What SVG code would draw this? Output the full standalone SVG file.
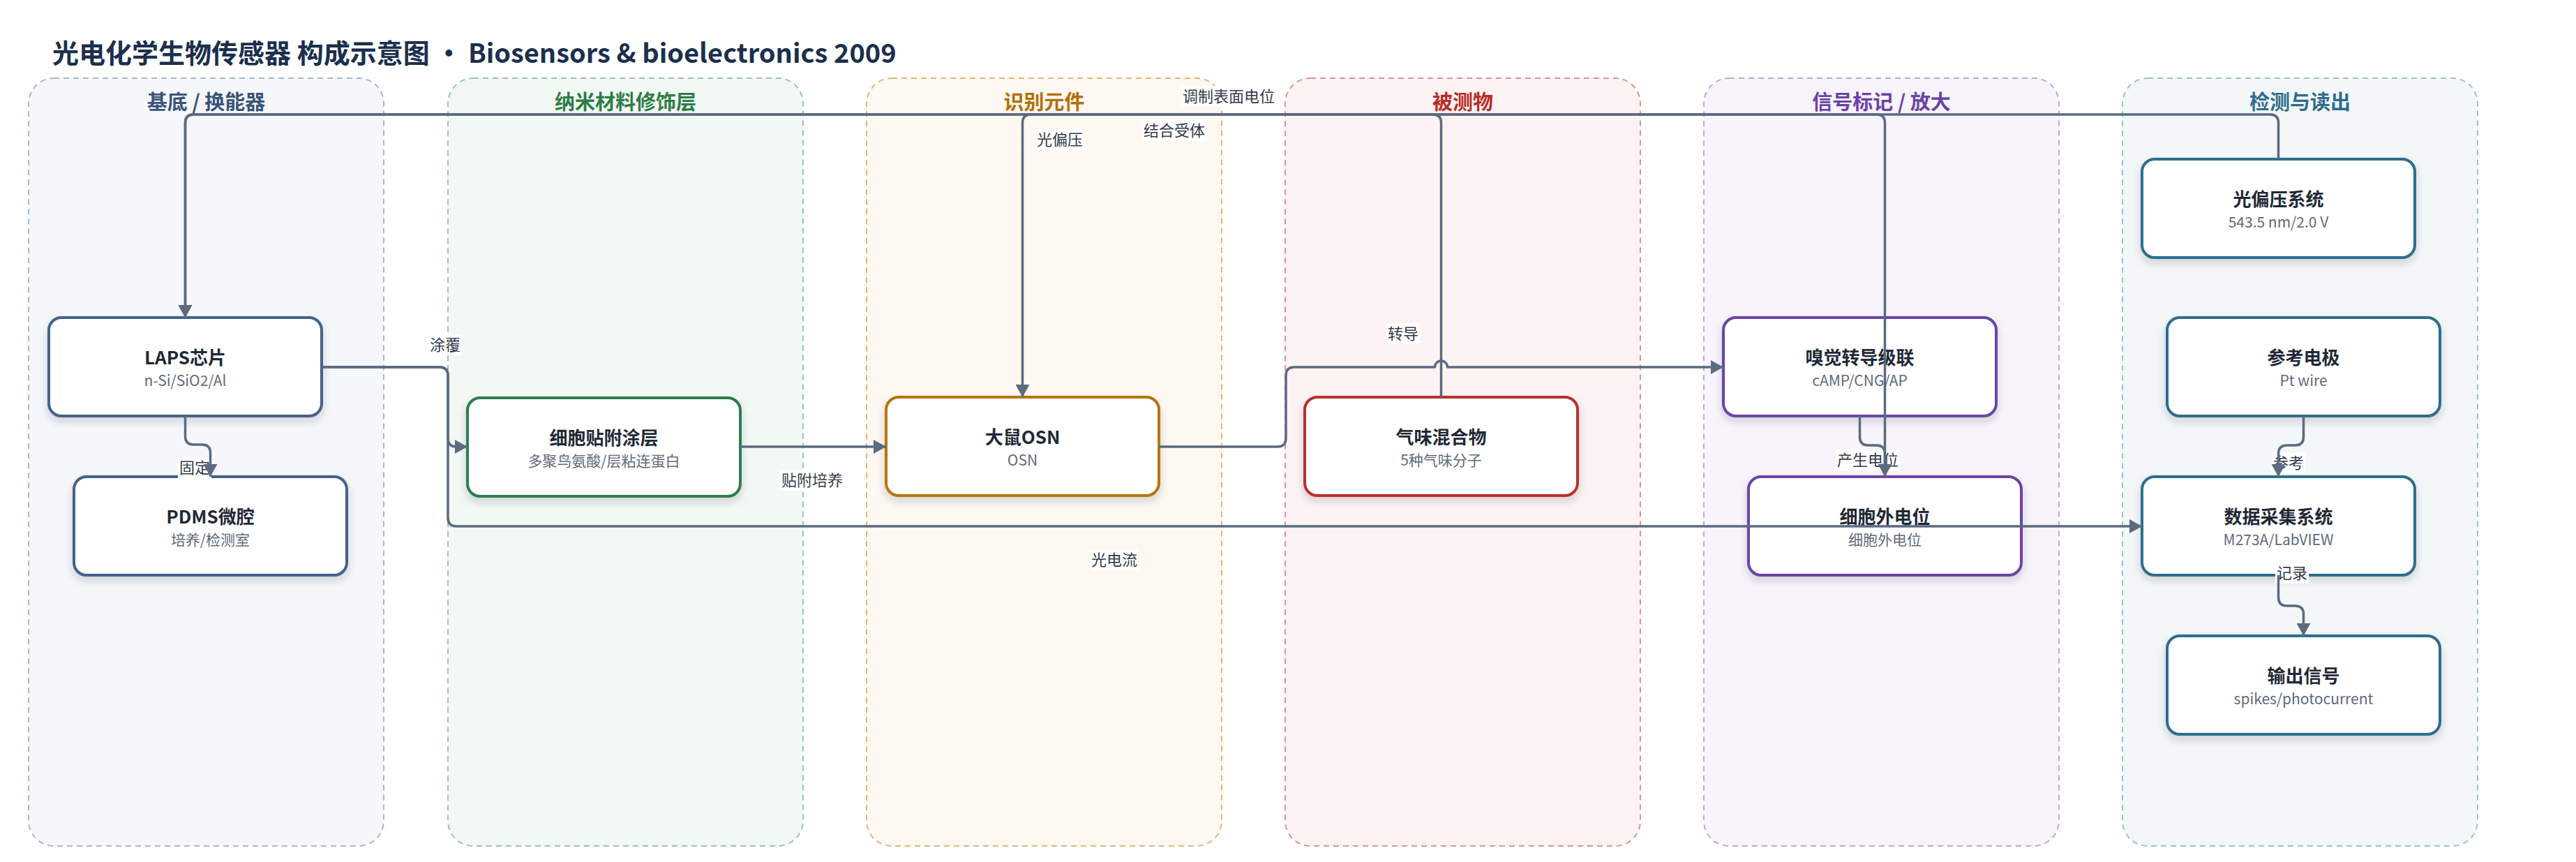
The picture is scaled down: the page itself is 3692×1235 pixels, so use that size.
<svg xmlns="http://www.w3.org/2000/svg" width="3692" height="1235" viewBox="0 0 3692 1235">
<defs>
<style>
text{font-family:"Noto Sans CJK SC","Noto Sans",sans-serif;}
.title{font-size:38px;font-weight:700;fill:#1b2f4e;}
.lane{stroke-width:2;stroke-dasharray:8 6;}
.lt{font-size:29px;font-weight:700;text-anchor:middle;}
.box{fill:#ffffff;stroke-width:4;filter:url(#sh);}
.nt{font-size:26px;font-weight:700;fill:#1f2937;text-anchor:middle;}
.ns{font-size:21px;fill:#5f6b7a;text-anchor:middle;}
.e{fill:none;stroke:#5b6b80;stroke-width:3.5;stroke-linejoin:round;}
.ea{marker-end:url(#ah);}
.lb{fill:#ffffff;}
.lbt{font-size:22px;fill:#333b47;text-anchor:middle;}
</style>
<filter id="sh" x="-10%" y="-15%" width="120%" height="140%">
<feDropShadow dx="0" dy="6" stdDeviation="6" flood-color="#1f2937" flood-opacity="0.18"/>
</filter>
<marker id="ah" viewBox="0 0 18 20" refX="18" refY="10" markerWidth="18" markerHeight="20" markerUnits="userSpaceOnUse" orient="auto">
<path d="M0,0 L18,10 L0,20 z" fill="#5b6b80"/>
</marker>
</defs>
<rect width="3692" height="1235" fill="#ffffff"/>
<text class="title" x="75" y="90">光电化学生物传感器 构成示意图 • Biosensors &amp; bioelectronics 2009</text>

<g id="lanes">
<g id="lane-substrate"><rect class="lane" x="41" y="112" width="509" height="1100" rx="36" fill="#f5f7fb" stroke="#a9b7cc"/><text class="lt" x="295.5" y="157" fill="#3b5478">基底 / 换能器</text></g>
<g id="lane-nano"><rect class="lane" x="642" y="112" width="509" height="1100" rx="36" fill="#f2f8f4" stroke="#9cc5a9"/><text class="lt" x="896.5" y="157" fill="#2e7d46">纳米材料修饰层</text></g>
<g id="lane-recog"><rect class="lane" x="1242" y="112" width="509" height="1100" rx="36" fill="#fdf8f1" stroke="#e3b577"/><text class="lt" x="1496.5" y="157" fill="#b46f0a">识别元件</text></g>
<g id="lane-analyte"><rect class="lane" x="1842" y="112" width="509" height="1100" rx="36" fill="#fdf3f3" stroke="#e09393"/><text class="lt" x="2096.5" y="157" fill="#b82c26">被测物</text></g>
<g id="lane-signal"><rect class="lane" x="2442" y="112" width="509" height="1100" rx="36" fill="#f7f4fb" stroke="#bfa6dc"/><text class="lt" x="2696.5" y="157" fill="#6c41a6">信号标记 / 放大</text></g>
<g id="lane-readout"><rect class="lane" x="3042" y="112" width="509" height="1100" rx="36" fill="#f3f7f8" stroke="#9dc0cc"/><text class="lt" x="3296.5" y="157" fill="#2f6d8a">检测与读出</text></g>
</g>

<g id="node-laps"><rect class="box" x="70" y="455" width="391" height="141" rx="18" stroke="#45628a"/><text class="nt" x="265.5" y="522">LAPS芯片</text><text class="ns" x="265.5" y="553">n-Si/SiO2/Al</text></g>
<g id="node-pdms"><rect class="box" x="106" y="683" width="391" height="141" rx="18" stroke="#45628a"/><text class="nt" x="301.5" y="750">PDMS微腔</text><text class="ns" x="301.5" y="781">培养/检测室</text></g>
<g id="node-coating"><rect class="box" x="670" y="570" width="391" height="141" rx="18" stroke="#2e7d4f"/><text class="nt" x="865.5" y="637">细胞贴附涂层</text><text class="ns" x="865.5" y="668">多聚鸟氨酸/层粘连蛋白</text></g>
<g id="node-osn"><rect class="box" x="1270" y="569" width="391" height="141" rx="18" stroke="#b8740e"/><text class="nt" x="1465.5" y="636">大鼠OSN</text><text class="ns" x="1465.5" y="667">OSN</text></g>
<g id="node-odor"><rect class="box" x="1870" y="569" width="391" height="141" rx="18" stroke="#b8312f"/><text class="nt" x="2065.5" y="636">气味混合物</text><text class="ns" x="2065.5" y="667">5种气味分子</text></g>
<g id="node-cascade"><rect class="box" x="2470" y="455" width="391" height="141" rx="18" stroke="#6b44a6"/><text class="nt" x="2665.5" y="522">嗅觉转导级联</text><text class="ns" x="2665.5" y="553">cAMP/CNG/AP</text></g>
<g id="node-extra"><rect class="box" x="2506" y="683" width="391" height="141" rx="18" stroke="#6b44a6"/><text class="nt" x="2701.5" y="750">细胞外电位</text><text class="ns" x="2701.5" y="781">细胞外电位</text></g>
<g id="node-bias"><rect class="box" x="3070" y="228" width="391" height="141" rx="18" stroke="#2f6e8c"/><text class="nt" x="3265.5" y="295">光偏压系统</text><text class="ns" x="3265.5" y="326">543.5 nm/2.0 V</text></g>
<g id="node-ref"><rect class="box" x="3106" y="455" width="391" height="141" rx="18" stroke="#2f6e8c"/><text class="nt" x="3301.5" y="522">参考电极</text><text class="ns" x="3301.5" y="553">Pt wire</text></g>
<g id="node-daq"><rect class="box" x="3070" y="683" width="391" height="141" rx="18" stroke="#2f6e8c"/><text class="nt" x="3265.5" y="750">数据采集系统</text><text class="ns" x="3265.5" y="781">M273A/LabVIEW</text></g>
<g id="node-out"><rect class="box" x="3106" y="911" width="391" height="141" rx="18" stroke="#2f6e8c"/><text class="nt" x="3301.5" y="978">输出信号</text><text class="ns" x="3301.5" y="1009">spikes/photocurrent</text></g>

<g id="connectors">
<g id="labels">
<rect class="lb" x="1693" y="123" width="136" height="30"/><text class="lbt" x="1761" y="146">调制表面电位</text>
<rect class="lb" x="1485" y="185" width="68" height="30"/><text class="lbt" x="1519" y="208">光偏压</text>
<rect class="lb" x="1637" y="172" width="92" height="30"/><text class="lbt" x="1683" y="195">结合受体</text>
<rect class="lb" x="614" y="479" width="48" height="30"/><text class="lbt" x="638" y="502">涂覆</text>
<rect class="lb" x="255" y="655" width="48" height="30"/><text class="lbt" x="279" y="678">固定</text>
<rect class="lb" x="1118" y="673" width="92" height="30"/><text class="lbt" x="1164" y="696">贴附培养</text>
<rect class="lb" x="1563" y="787" width="68" height="30"/><text class="lbt" x="1597" y="810">光电流</text>
<rect class="lb" x="1987" y="463" width="48" height="30"/><text class="lbt" x="2011" y="486">转导</text>
<rect class="lb" x="2631" y="644" width="92" height="30"/><text class="lbt" x="2677" y="667">产生电位</text>
<rect class="lb" x="3256" y="648" width="48" height="30"/><text class="lbt" x="3280" y="671">参考</text>
<rect class="lb" x="3261" y="806" width="48" height="30"/><text class="lbt" x="3285" y="829">记录</text>
</g>
<path class="e ea" d="M3265.5 228 V176 Q3265.5 164 3253.5 164 H277.5 Q265.5 164 265.5 176 V455"/>
<path class="e ea" d="M2701.5 683 V176 Q2701.5 164 2689.5 164 H277.5 Q265.5 164 265.5 176 V455"/>
<path class="e ea" d="M2065.5 569 V176 Q2065.5 164 2053.5 164 H1477.5 Q1465.5 164 1465.5 176 V569"/>
<path class="e ea" d="M1661 640 H1831 Q1843 640 1843 628 V538 Q1843 526 1855 526 H2056.5 A9 9 0 0 1 2074.5 526 H2470"/>
<path class="e ea" d="M461 526 H630 Q642 526 642 538 V628 Q642 640 654 640 H670"/>
<path class="e ea" d="M461 526 H630 Q642 526 642 538 V742 Q642 754 654 754 H3070"/>
<path class="e ea" d="M1061 640 H1270"/>
<path class="e ea" d="M265.5 596 V625 Q265.5 637 277.5 637 H289.5 Q301.5 637 301.5 649 V683"/>
<path class="e ea" d="M2665.5 596 V626 Q2665.5 638 2677.5 638 H2689.5 Q2701.5 638 2701.5 650 V683"/>
<path class="e ea" d="M3301.5 596 V626 Q3301.5 638 3289.5 638 H3277.5 Q3265.5 638 3265.5 650 V683"/>
<path class="e ea" d="M3265.5 824 V856 Q3265.5 868 3277.5 868 H3289.5 Q3301.5 868 3301.5 880 V911"/>
</g>
</svg>
